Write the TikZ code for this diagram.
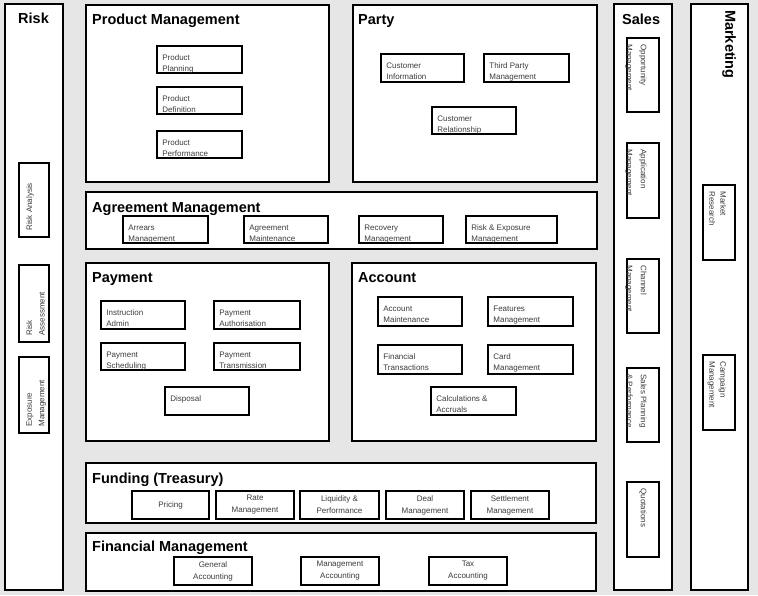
\documentclass[tikz,border=0pt]{standalone}
\usepackage{fontspec}
\setmainfont{Liberation Sans}
\definecolor{bgc}{RGB}{230,230,230}
\definecolor{txtc}{RGB}{60,60,60}
\tikzset{
  outerbox/.style={draw=black,fill=white,line width=1.6pt,inner sep=0pt,rectangle},
  subbox/.style={draw=black,fill=white,line width=1.6pt,inner sep=0pt,rectangle},
  subtext/.style={text=txtc,inner sep=0pt,align=left,font=\fontsize{8}{11}\selectfont},
  subtextc/.style={text=txtc,align=center,font=\fontsize{8}{12}\selectfont},
  titletext/.style={text=black,inner sep=0pt,anchor=base west,font=\fontsize{14.5}{16}\selectfont\bfseries},
  rtext/.style={subtext,font=\fontsize{8}{12.5}\selectfont},
  stext/.style={subtext,font=\fontsize{8}{14}\selectfont},
  mtext/.style={subtext,font=\fontsize{8}{11}\selectfont}
}
% name, x1, y1, x2, y2
\newcommand\myouter[5]{\node[outerbox,minimum width={(#4-#2)*1pt},minimum height={(#5-#3)*1pt}] (#1) at ({(#2+#4)/2},{(#3+#5)/2}) {};}
% left-aligned sub box
\newcommand\myboxL[6]{\node[subbox,minimum width={(#4-#2)*1pt},minimum height={(#5-#3)*1pt}] (#1) at ({(#2+#4)/2},{(#3+#5)/2}) {};
  \node[subtext,anchor=north west] (#1t) at ([xshift=6pt,yshift=-9.5pt]#1.north west) {#6};}
% centred sub box
\newcommand\myboxC[6]{\node[subbox,subtextc,minimum width={(#4-#2)*1pt},minimum height={(#5-#3)*1pt}] (#1) at ({(#2+#4)/2},{(#3+#5)/2}) {#6};}
% vertical, bottom to top (Risk)
\newcommand\myboxR[6]{\node[subbox,minimum width={(#4-#2)*1pt},minimum height={(#5-#3)*1pt}] (#1) at ({(#2+#4)/2},{(#3+#5)/2}) {};
  \node[rtext,rotate=90,anchor=north west] (#1t) at ([xshift=8pt,yshift=7pt]#1.south west) {#6};}
% vertical, top to bottom (Sales)
\newcommand\myboxS[6]{\node[subbox,minimum width={(#4-#2)*1pt},minimum height={(#5-#3)*1pt}] (#1) at ({(#2+#4)/2},{(#3+#5)/2}) {};
  \node[stext,rotate=-90,anchor=north west] (#1t) at ([xshift=-13pt,yshift=-7pt]#1.north east) {#6};}
% vertical, top to bottom (Marketing)
\newcommand\myboxM[6]{\node[subbox,minimum width={(#4-#2)*1pt},minimum height={(#5-#3)*1pt}] (#1) at ({(#2+#4)/2},{(#3+#5)/2}) {};
  \node[mtext,rotate=-90,anchor=north west] (#1t) at ([xshift=-9.5pt,yshift=-7pt]#1.north east) {#6};}
\begin{document}
\begin{tikzpicture}[x=1pt,y=-1pt]
\fill[bgc] (0,0) rectangle (758,595);
\useasboundingbox (0,0) rectangle (758,595);

% ---- Risk column
\myouter{risk}{5}{4}{63}{590}
\node[titletext] (riskT) at (18,23.5) {Risk};
\myboxR{ra}{19}{163}{49}{237}{Risk Analysis}
\myboxR{rs}{19}{265}{49}{342}{Risk\\Assessment}
\myboxR{em}{19}{357}{49}{433}{Exposure\\Management}

% ---- Product Management
\myouter{prod}{86}{5}{329}{182}
\node[titletext] (prodT) at (92,24) {Product Management};
\myboxL{pp}{157}{46}{242}{73}{Product\\Planning}
\myboxL{pd}{157}{87}{242}{114}{Product\\Definition}
\myboxL{pf}{157}{131}{242}{158}{Product\\Performance}

% ---- Party
\myouter{party}{353}{5}{597}{182}
\node[titletext] (partyT) at (358,24) {Party};
\myboxL{ci}{381}{54}{464}{82}{Customer\\Information}
\myboxL{tp}{484}{54}{569}{82}{Third Party\\Management}
\myboxL{cr}{432}{107}{516}{134}{Customer\\Relationship}

% ---- Agreement Management
\myouter{agr}{86}{192}{597}{249}
\node[titletext] (agrT) at (92,212) {Agreement Management};
\myboxL{am}{123}{216}{208}{243}{Arrears\\Management}
\myboxL{ag}{244}{216}{328}{243}{Agreement\\Maintenance}
\myboxL{rm}{359}{216}{443}{243}{Recovery\\Management}
\myboxL{re}{466}{216}{557}{243}{Risk \& Exposure\\Management}

% ---- Payment
\myouter{pay}{86}{263}{329}{441}
\node[titletext] (payT) at (92,282.5) {Payment};
\myboxL{ia}{101}{301}{185}{329}{Instruction\\Admin}
\myboxL{pa}{214}{301}{300}{329}{Payment\\Authorisation}
\myboxL{ps}{101}{343}{185}{370}{Payment\\Scheduling}
\myboxL{pt}{214}{343}{300}{370}{Payment\\Transmission}
\myboxL{di}{165}{387}{249}{415}{Disposal}

% ---- Account
\myouter{acc}{352}{263}{596}{441}
\node[titletext] (accT) at (358,282.5) {Account};
\myboxL{acm}{378}{297}{462}{326}{Account\\Maintenance}
\myboxL{fm}{488}{297}{573}{326}{Features\\Management}
\myboxL{ft}{378}{345}{462}{374}{Financial\\Transactions}
\myboxL{cm}{488}{345}{573}{374}{Card\\Management}
\myboxL{ca}{431}{387}{516}{415}{Calculations \&\\Accruals}

% ---- Funding (Treasury)
\myouter{fund}{86}{463}{596}{523}
\node[titletext] (fundT) at (92,483.5) {Funding (Treasury)};
\myboxC{pr}{132}{491}{209}{519}{Pricing}
\myboxC{rt}{216}{491}{294}{519}{Rate\\Management}
\myboxC{lq}{300}{491}{379}{519}{Liquidity \&\\Performance}
\myboxC{dm}{386}{491}{464}{519}{Deal\\Management}
\myboxC{sm}{471}{491}{549}{519}{Settlement\\Management}

% ---- Financial Management
\myouter{fin}{86}{533}{596}{591}
\node[titletext] (finT) at (92,551) {Financial Management};
\myboxC{ga}{174}{557}{252}{585}{General\\Accounting}
\myboxC{ma}{301}{557}{379}{585}{Management\\Accounting}
\myboxC{ta}{429}{557}{507}{585}{Tax\\Accounting}

% ---- Sales
\myouter{sales}{614}{4}{672}{590}
\node[titletext] (salesT) at (622,24.5) {Sales};
\myboxS{op}{627}{38}{659}{112}{Opportunity\\Management}
\myboxS{ap}{627}{143}{659}{218}{Application\\Management}
\myboxS{ch}{627}{259}{659}{333}{Channel\\Management}
\myboxS{sp}{627}{368}{659}{442}{Sales Planning\\\& Performance}
\myboxS{qu}{627}{482}{659}{557}{Quotations}

% ---- Marketing
\myouter{mkt}{691}{4}{748}{590}
\node[titletext,rotate=-90,anchor=north west] (mktT) at (736,10) {Marketing};
\myboxM{mr}{703}{185}{735}{260}{Market\\Research}
\myboxM{cp}{703}{355}{735}{430}{Campaign\\Management}
\end{tikzpicture}
\end{document}
